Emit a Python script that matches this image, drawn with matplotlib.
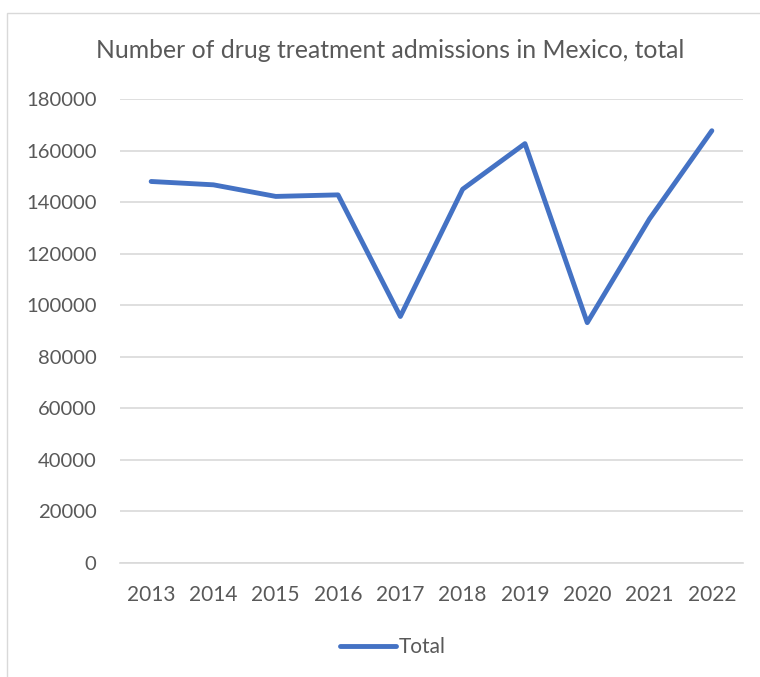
import matplotlib
matplotlib.use("Agg")
import matplotlib.pyplot as plt
from matplotlib.patches import Rectangle

years = ["2013", "2014", "2015", "2016", "2017", "2018", "2019", "2020", "2021", "2022"]
totals = [148100, 146800, 142300, 142900, 95700, 145100, 162800, 93300, 133600, 167800]
yticks = [0, 20000, 40000, 60000, 80000, 100000, 120000, 140000, 160000, 180000]

W, H = 760, 677
fig = plt.figure(figsize=(W / 100, H / 100), dpi=100)
plt.rcParams['font.family'] = ['Lato', 'DejaVu Sans']
txt = '#595959'
blue = '#4472C4'

# outer chart frame (clipped by image on right/bottom)
fig.patches.append(Rectangle((7 / W, -0.01), 1.0, 1 - 12.5 / H + 0.01, transform=fig.transFigure,
                             fill=False, edgecolor='#D9D9D9', linewidth=1.0))

left, right = 120 / W, 743 / W
bottom, top = 1 - 563 / H, 1 - 99.3 / H
ax = fig.add_axes([left, bottom, right - left, top - bottom])

x = list(range(len(years)))
line, = ax.plot(x, totals, color=blue, linewidth=3.5, solid_capstyle='round',
                solid_joinstyle='round', label='Total')

ax.set_xlim(-0.5, len(years) - 0.5)
ax.set_ylim(0, 180000)
ax.set_yticks(yticks)
ax.set_yticklabels([str(v) for v in yticks])
ax.set_xticks(x)
ax.set_xticklabels(years)
ax.tick_params(axis='y', length=0, labelsize=14.6, colors=txt, pad=17)
ax.tick_params(axis='x', length=0, labelsize=15, colors=txt, pad=15.5)
ax.grid(axis='y', color='#D9D9D9', linewidth=1.2)
ax.set_axisbelow(True)
for s in ['top', 'right', 'left']:
    ax.spines[s].set_visible(False)
ax.spines['bottom'].set_color('#D9D9D9')
ax.spines['bottom'].set_linewidth(1.2)

fig.text(390 / W, 1 - 50 / H, "Number of drug treatment admissions in Mexico, total",
         ha='center', va='center', fontsize=17.8, color=txt)

leg = fig.legend(handles=[line], loc='center', bbox_to_anchor=(393 / W, 1 - 647 / H),
                 frameon=False, fontsize=15, handlelength=2.7, handletextpad=0.15,
                 labelcolor=txt)

fig.savefig("out.png", dpi=100)
